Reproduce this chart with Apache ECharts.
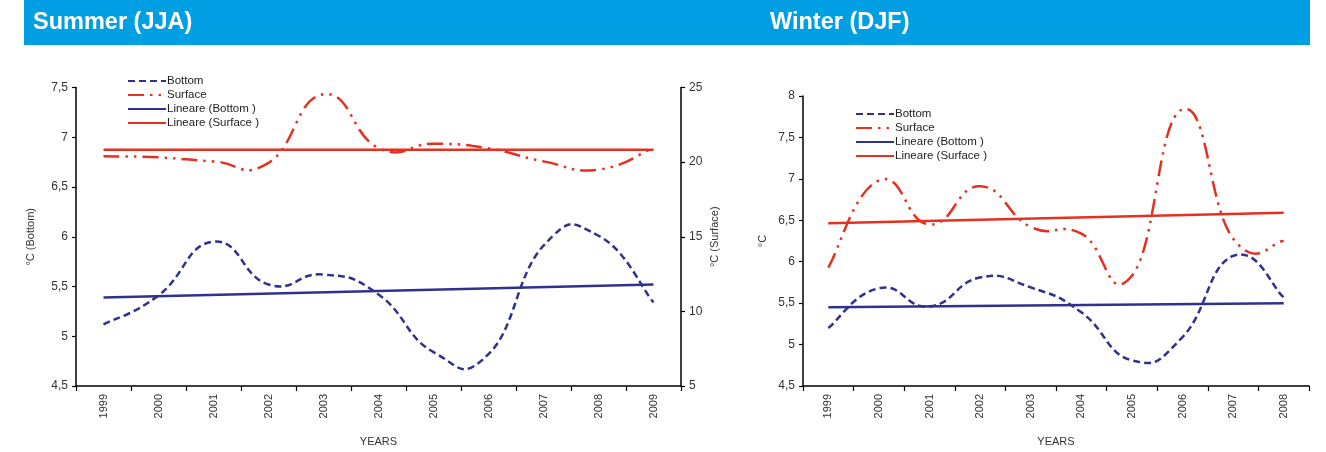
<!DOCTYPE html>
<html><head><meta charset="utf-8">
<script src="https://cdn.jsdelivr.net/npm/echarts@6/dist/echarts.min.js"></script>
<style>html,body{margin:0;padding:0;background:#fff}#c{width:1326px;height:452px}</style>
</head><body><div id="c"></div>
<script>
// ---- Summer (JJA) ----
const summerYears = ['1999','2000','2001','2002','2003','2004','2005','2006','2007','2008','2009'];
const summerBottom = [5.12, 5.41, 5.95, 5.52, 5.62, 5.42, 4.84, 4.82, 5.91, 6.01, 5.34];
const summerSurface = [20.39, 20.32, 20.05, 19.95, 24.55, 20.95, 21.23, 20.92, 20.05, 19.5, 20.97];
const summerBottomTrend = [5.39, 5.52];   // first / last year
const summerSurfaceTrend = [20.83, 20.83];
const summerLeftTicks = {min: 4.5, max: 7.5, interval: 0.5};
const summerRightTicks = {min: 5, max: 25, interval: 5};

// ---- Winter (DJF) ----
const winterYears = ['1999','2000','2001','2002','2003','2004','2005','2006','2007','2008'];
const winterBottom = [5.2, 5.68, 5.46, 5.81, 5.69, 5.39, 4.81, 5.09, 6.07, 5.57];
const winterSurface = [5.93, 6.98, 6.45, 6.91, 6.42, 6.34, 5.83, 7.84, 6.28, 6.25];
const winterBottomTrend = [5.45, 5.50];
const winterSurfaceTrend = [6.465, 6.59];
const winterTicks = {min: 4.5, max: 8, interval: 0.5};

const legendNames = ['Bottom', 'Surface', 'Lineare (Bottom )', 'Lineare (Surface )'];

const NAVY = '#30318F';
const RED = '#E6301F';
const FONT = "'Liberation Sans', Arial, Helvetica, sans-serif";
const comma = v => String(v).replace('.', ',');
const TENSION = 0.25; // spreadsheet-style cardinal spline

function trend(cats, ends) {
  return [[cats[0], ends[0]], [cats[cats.length - 1], ends[1]]];
}

// Smooth (overshooting, spreadsheet-like) curve through the data points,
// positioned with the chart's own axes via api.coord.
function smoothCurve(name, xIdx, yIdx, values, color, dash) {
  return {
    name: name, type: 'custom', xAxisIndex: xIdx, yAxisIndex: yIdx,
    data: values.map((v, i) => [i, v]),
    encode: {x: 0, y: 1},
    silent: true,
    renderItem: function (params, api) {
      if (params.dataIndexInside !== 0) return null;
      const n = params.dataInsideLength;
      const p = [];
      for (let i = 0; i < n; i++) p.push(api.coord([api.value(0, i), api.value(1, i)]));
      let d = 'M' + p[0][0] + ' ' + p[0][1];
      for (let i = 0; i < n - 1; i++) {
        const p0 = p[Math.max(i - 1, 0)], p1 = p[i], p2 = p[i + 1], p3 = p[Math.min(i + 2, n - 1)];
        const c1x = p1[0] + (p2[0] - p0[0]) * TENSION, c1y = p1[1] + (p2[1] - p0[1]) * TENSION;
        const c2x = p2[0] - (p3[0] - p1[0]) * TENSION, c2y = p2[1] - (p3[1] - p1[1]) * TENSION;
        d += ' C' + c1x + ' ' + c1y + ' ' + c2x + ' ' + c2y + ' ' + p2[0] + ' ' + p2[1];
      }
      return {type: 'path', shape: {pathData: d},
              style: {stroke: color, fill: null, lineWidth: 2.5, lineDash: dash, lineCap: 'butt'}};
    }
  };
}

const xAxisBase = {
  type: 'category', boundaryGap: true,
  axisLine: {lineStyle: {color: '#000', width: 1.5}},
  axisTick: {show: true, length: 5, lineStyle: {color: '#000', width: 1.2}},
  axisLabel: {rotate: 90, fontSize: 11, color: '#333', margin: 8, interval: 0, fontFamily: FONT},
  splitLine: {show: false},
  name: 'YEARS', nameLocation: 'middle', nameGap: 50,
  nameTextStyle: {fontSize: 11, color: '#333', fontFamily: FONT}
};
const yAxisBase = {
  type: 'value',
  axisLine: {show: true, lineStyle: {color: '#000', width: 1.5}},
  axisTick: {show: true, length: 4, lineStyle: {color: '#000', width: 1.2}},
  axisLabel: {fontSize: 12, color: '#333', margin: 8, formatter: comma, fontFamily: FONT},
  splitLine: {show: false},
  nameLocation: 'middle', nameRotate: 90,
  nameTextStyle: {fontSize: 11, color: '#333', fontFamily: FONT}
};

const dashBottom = [7, 4];
const dashSurface = [16, 6, 2.5, 6, 2.5, 6];

// empty line series: they only carry the legend symbols
function legendProxy(name, xIdx, yIdx, color, dash) {
  return {name: name, type: 'line', xAxisIndex: xIdx, yAxisIndex: yIdx, data: [], symbol: 'none',
          lineStyle: {color: color, width: 2.5, type: dash}, itemStyle: {color: color}};
}

const legendBase = {orient: 'vertical', padding: 0, itemWidth: 38, itemHeight: 10, itemGap: 2,
  itemStyle: {opacity: 0},
  textStyle: {fontSize: 11.5, color: '#222', fontFamily: FONT, padding: [0, 0, 0, -4]}, data: legendNames};

const chart = echarts.init(document.getElementById('c'), null, {renderer: 'canvas'});
chart.setOption({
  animation: false,
  textStyle: {fontFamily: FONT},
  graphic: [{type: 'rect', shape: {x: 24, y: 0, width: 1286, height: 45}, style: {fill: '#009FE3'}, z: -10}],
  title: [
    {text: 'Summer (JJA)', left: 33, top: 11, padding: 0, textStyle: {color: '#fff', fontSize: 23.5, fontWeight: 'bold', fontFamily: FONT}},
    {text: 'Winter (DJF)', left: 770, top: 11, padding: 0, textStyle: {color: '#fff', fontSize: 23.5, fontWeight: 'bold', fontFamily: FONT}}
  ],
  legend: [
    Object.assign({}, legendBase, {left: 127, top: 75}),
    Object.assign({}, legendBase, {left: 855, top: 108})
  ],
  grid: [
    {left: 76, top: 87.5, width: 605, height: 300},
    {left: 803, top: 96, width: 506, height: 291.5}
  ],
  xAxis: [
    Object.assign({}, xAxisBase, {gridIndex: 0, data: summerYears}),
    Object.assign({}, xAxisBase, {gridIndex: 1, data: winterYears})
  ],
  yAxis: [
    Object.assign({}, yAxisBase, {gridIndex: 0, position: 'left', name: '°C (Bottom)', nameGap: 40}, summerLeftTicks),
    Object.assign({}, yAxisBase, {gridIndex: 0, position: 'right', name: '°C (Surface)', nameGap: 28}, summerRightTicks),
    Object.assign({}, yAxisBase, {gridIndex: 1, position: 'left', name: '°C', nameGap: 35}, winterTicks)
  ],
  series: [
    legendProxy('Bottom', 0, 0, NAVY, dashBottom),
    legendProxy('Surface', 0, 1, RED, dashSurface),

    {name: 'Lineare (Bottom )', type: 'line', xAxisIndex: 0, yAxisIndex: 0, data: trend(summerYears, summerBottomTrend), symbol: 'none',
     lineStyle: {color: NAVY, width: 2.5}, itemStyle: {color: NAVY}},
    {name: 'Lineare (Surface )', type: 'line', xAxisIndex: 0, yAxisIndex: 1, data: trend(summerYears, summerSurfaceTrend), symbol: 'none',
     lineStyle: {color: RED, width: 2.5}, itemStyle: {color: RED}},
    smoothCurve('Bottom', 0, 0, summerBottom, NAVY, dashBottom),
    smoothCurve('Surface', 0, 1, summerSurface, RED, dashSurface),

    {name: 'Lineare (Bottom )', type: 'line', xAxisIndex: 1, yAxisIndex: 2, data: trend(winterYears, winterBottomTrend), symbol: 'none',
     lineStyle: {color: NAVY, width: 2.5}, itemStyle: {color: NAVY}},
    {name: 'Lineare (Surface )', type: 'line', xAxisIndex: 1, yAxisIndex: 2, data: trend(winterYears, winterSurfaceTrend), symbol: 'none',
     lineStyle: {color: RED, width: 2.5}, itemStyle: {color: RED}},
    smoothCurve('Bottom', 1, 2, winterBottom, NAVY, dashBottom),
    smoothCurve('Surface', 1, 2, winterSurface, RED, dashSurface)
  ]
});
</script>
</body></html>
